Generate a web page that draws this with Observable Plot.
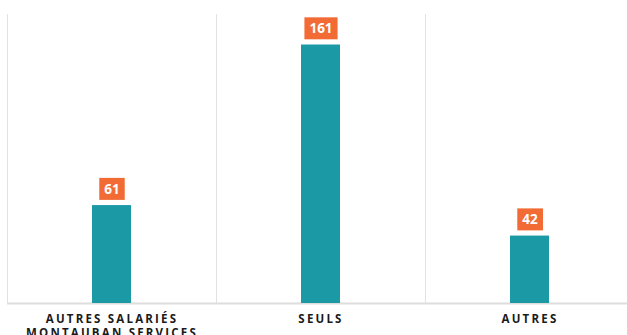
<!DOCTYPE html>
<html>
<head>
<meta charset="utf-8">
<script src="https://cdn.jsdelivr.net/npm/d3@7"></script>
<script src="https://cdn.jsdelivr.net/npm/@observablehq/plot@0.6"></script>
<style>
  html, body { margin: 0; padding: 0; background: #fff; overflow: hidden; }
  #chart svg { display: block; overflow: visible; }
  #chart g[aria-label="x-axis tick label"] text { letter-spacing: 2.2px; }
</style>
</head>
<body>
<div id="chart"></div>
<script>
const categories = ["AUTRES SALARIÉS\nMONTAUBAN SERVICES", "SEULS", "AUTRES"];
const values = [61, 161, 42];
const yDomain = [0, 180];

const data = categories.map((c, i) => ({category: c, value: values[i]}));

const W = 627, H = 335, mL = 7, mR = -7;
const band = (W - mL - mR) / categories.length;
const barW = 39;
const inset = (band - barW) / 2;

const chart = Plot.plot({
  width: W,
  height: H,
  marginLeft: mL,
  marginRight: mR,
  marginTop: 14,
  marginBottom: 32,
  style: {fontFamily: "'Open Sans', sans-serif", background: "#fff", maxWidth: "none"},
  x: {domain: categories, padding: 0, label: null},
  y: {domain: yDomain, label: null, axis: null},
  marks: [
    Plot.ruleX(categories, {x: d => d, dx: -band / 2, y1: yDomain[0], y2: yDomain[1], stroke: "#e2e2e2", strokeWidth: 1}),
    Plot.ruleY([0], {stroke: "#dddddd", strokeWidth: 2}),
    Plot.barY(data, {x: "category", y: "value", fill: "#1b9aa6", insetLeft: inset, insetRight: inset}),
    Plot.text(data, {x: "category", y: "value", text: d => String(d.value), dy: -16, fill: "#ffffff", fontSize: 13.5, fontWeight: "bold"}),
    Plot.axisX({tickSize: 0, tickPadding: 10, fontSize: 11.5, fontWeight: "bold", fill: "#1a1a1a", lineHeight: 1.2, label: null})
  ]
});

document.getElementById("chart").appendChild(chart);

// orange boxes behind value labels
const labelTexts = d3.select(chart).selectAll('g[aria-label="text"] text');
labelTexts.each(function() {
  const bb = this.getBBox();
  const padX = 5, h = 22;
  const cy = bb.y + bb.height / 2;
  const rect = document.createElementNS("http://www.w3.org/2000/svg", "rect");
  rect.setAttribute("x", bb.x - padX);
  rect.setAttribute("y", cy - h / 2);
  rect.setAttribute("width", bb.width + 2 * padX);
  rect.setAttribute("height", h);
  rect.setAttribute("fill", "#f26b35");
  const t = this.getAttribute("transform");
  if (t) rect.setAttribute("transform", t);
  this.parentNode.insertBefore(rect, this);
});
</script>
</body>
</html>
